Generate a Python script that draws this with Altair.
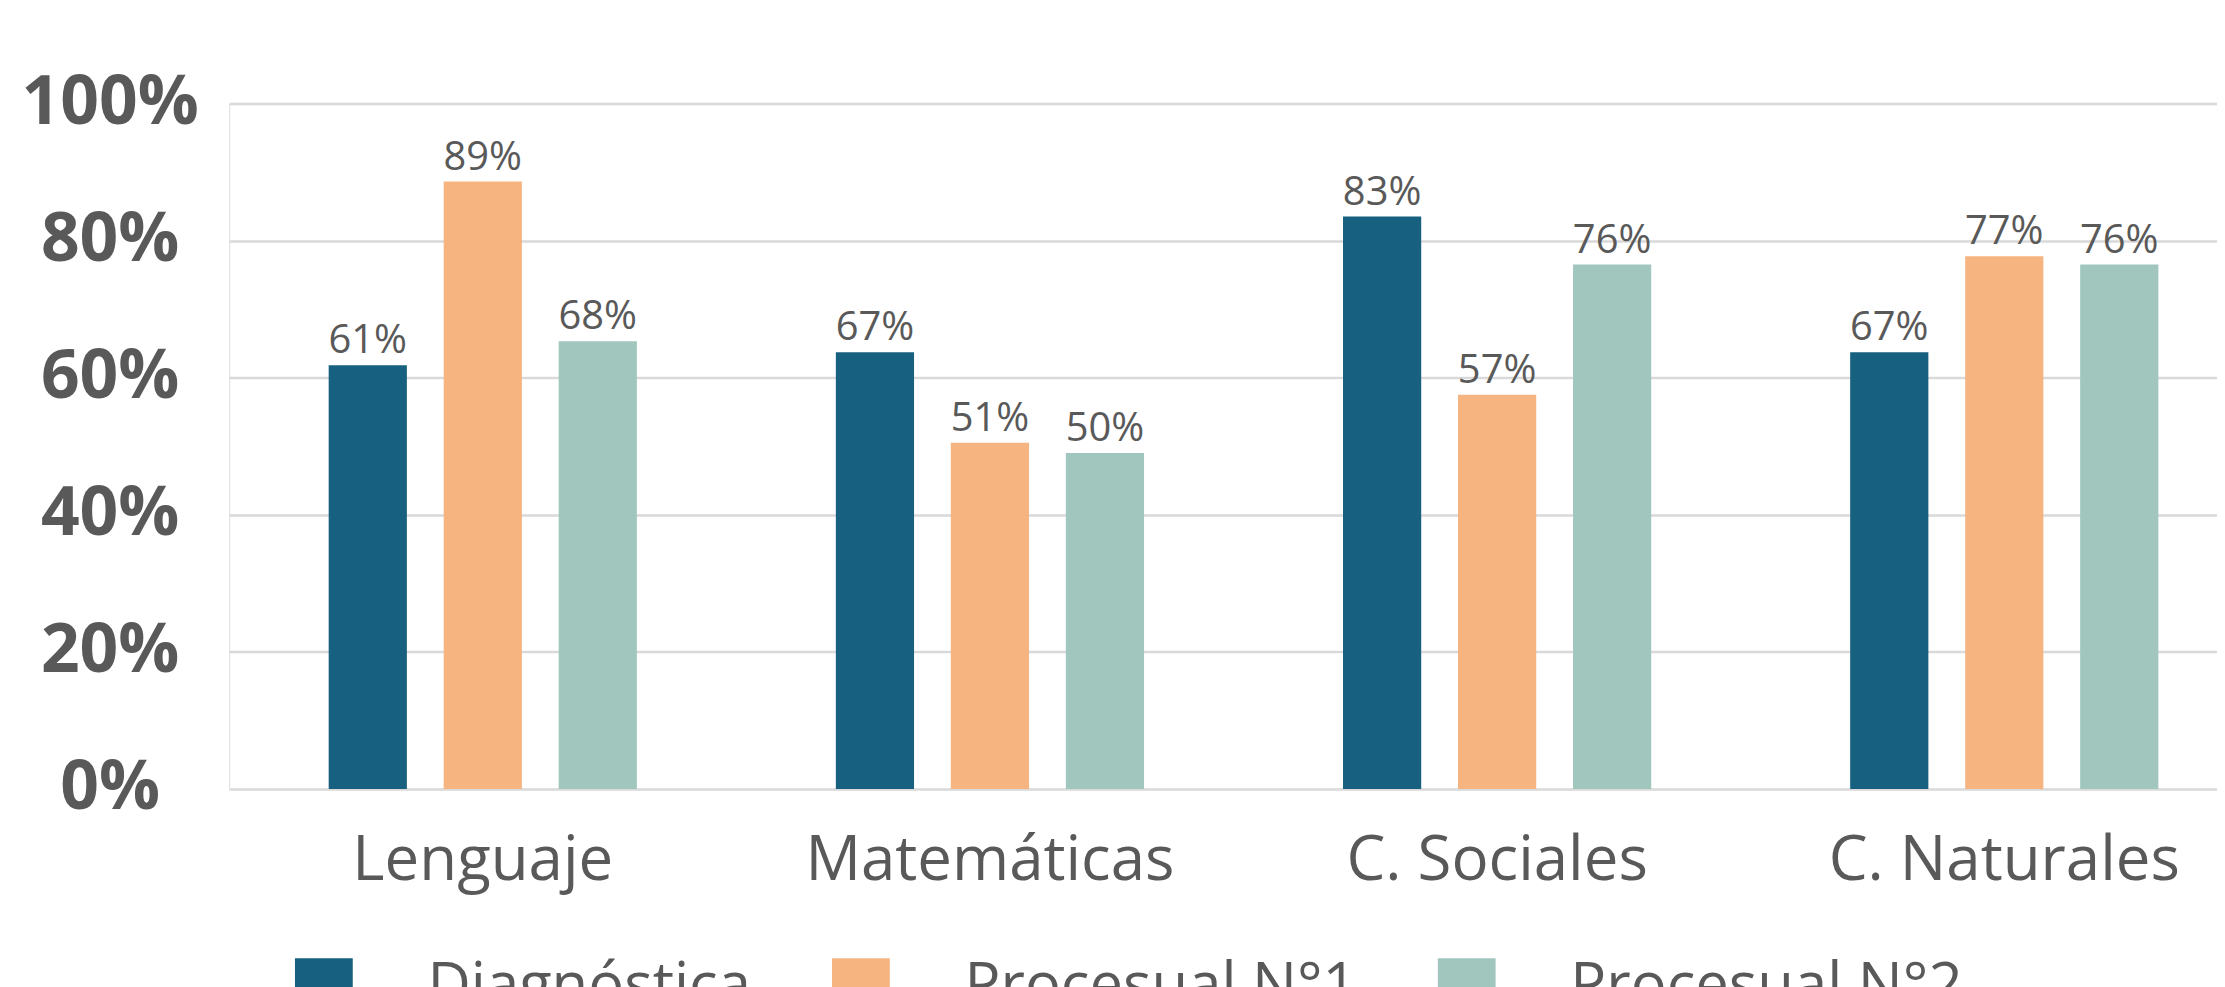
import altair as alt
import pandas as pd

subjects = ["Lenguaje", "Matemáticas", "C. Sociales", "C. Naturales"]
series = ["Diagnóstica", "Procesual N°1", "Procesual N°2"]
colors = ["#17607f", "#f6b480", "#a1c6be"]

# bar heights as drawn (percent)
diag_vals = [61.8, 63.7, 83.5, 63.7]
proc1_vals = [88.6, 50.5, 57.5, 77.7]
proc2_vals = [65.3, 49.0, 76.5, 76.5]

# data labels as printed
diag_labels = ["61%", "67%", "83%", "67%"]
proc1_labels = ["89%", "51%", "57%", "77%"]
proc2_labels = ["68%", "50%", "76%", "76%"]

y_ticks = [0, 20, 40, 60, 80, 100]

rows = []
for s, vals, labs in zip(series, [diag_vals, proc1_vals, proc2_vals],
                         [diag_labels, proc1_labels, proc2_labels]):
    for subj, v, l in zip(subjects, vals, labs):
        rows.append({"Asignatura": subj, "Serie": s, "Valor": v, "Etiqueta": l})
df = pd.DataFrame(rows)

FONT = "Open Sans"
GREY = "#595959"

x_enc = alt.X("Asignatura:N", sort=subjects,
              scale=alt.Scale(range=[0, 2036], paddingInner=0, paddingOuter=0),
              axis=alt.Axis(title=None, labelAngle=0, labelFont=FONT, labelFontSize=62,
                            labelColor=GREY, labelPadding=42, ticks=False, domain=False,
                            labelBaseline="top", labelLimit=0))
xo_enc = alt.XOffset("Serie:N", sort=series,
                     scale=alt.Scale(paddingInner=0.32, paddingOuter=0.865))
y_enc = alt.Y("Valor:Q",
              scale=alt.Scale(domain=[0, 100], nice=False),
              axis=alt.Axis(title=None, values=y_ticks, labelExpr="datum.value + '%'",
                            labelFont=FONT, labelFontSize=68, labelFontWeight="bold",
                            labelColor=GREY, labelAlign="center", labelPadding=120,
                            ticks=False, domain=False, grid=True, gridColor="#d9d9d9",
                            gridWidth=2.5, labelBaseline="middle"))

bars = alt.Chart(df).mark_bar().encode(
    x=x_enc,
    xOffset=xo_enc,
    y=y_enc,
    color=alt.Color("Serie:N", sort=series,
                    scale=alt.Scale(domain=series, range=colors),
                    legend=alt.Legend(orient="none", legendX=65, legendY=857,
                                      direction="horizontal", title=None,
                                      symbolType="square", symbolSize=3364,
                                      symbolStrokeWidth=0, symbolOpacity=1,
                                      labelFont=FONT, labelFontSize=60,
                                      labelColor=GREY, labelOffset=74,
                                      columnPadding=80, labelLimit=0)),
)

labels = alt.Chart(df).mark_text(font=FONT, fontSize=40, color=GREY,
                                 baseline="alphabetic", dy=-12).encode(
    x=alt.X("Asignatura:N", sort=subjects),
    xOffset=alt.XOffset("Serie:N", sort=series),
    y=alt.Y("Valor:Q"),
    text="Etiqueta:N",
)

chart = alt.layer(bars, labels).properties(
    width=1995,
    height=688,
    padding={"left": 222, "top": 94, "right": 0, "bottom": 197},
    autosize=alt.AutoSizeParams(type="none"),
).configure_view(stroke=None).configure(background="white")

chart.save("out.html", embed_options={"renderer": "svg", "actions": False})
